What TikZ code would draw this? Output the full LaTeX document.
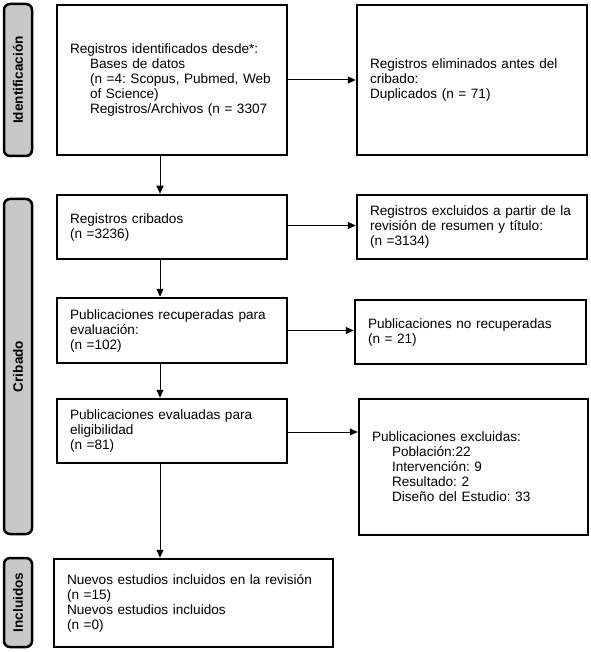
\documentclass[tikz,border=0pt]{standalone}
\usepackage{fontspec}
\setmainfont{Liberation Sans}
\usetikzlibrary{arrows.meta}
\definecolor{sidegray}{HTML}{C8C8C8}
\frenchspacing
\begin{document}
\begin{tikzpicture}[x=1pt,y=-1pt,
  box/.style={draw, line width=2.5pt, rectangle, inner xsep=13pt, inner ysep=0pt,
    align=left, font=\fontsize{13.6}{15}\selectfont\frenchspacing},
  side/.style={draw, line width=2.5pt, rectangle, rounded corners=6pt, fill=sidegray,
    rotate=90, inner sep=0pt, minimum height=28pt,
    font=\fontsize{13.6}{15}\selectfont\bfseries},
  arr/.style={line width=1pt, -{Triangle[length=8pt,width=7pt]}}]
\useasboundingbox (0,0) rectangle (590,652);
\newcommand{\indt}{\hspace*{20pt}}
% side bars
\node[side, minimum width=152pt] (s1) at (18,80) {Identificación};
\node[side, minimum width=335pt] (s2) at (18,366.5) {Cribado};
\node[side, minimum width=89pt] (s3) at (18,602.5) {Incluidos};
% left column
\node[box, text width=204pt, minimum height=150pt] (b1) at (172,80)
  {\mbox{Registros identificados desde*:}\\
   \indt Bases de datos\\
   \indt \mbox{(n =4: Scopus, Pubmed, Web}\\
   \indt of Science)\\
   \indt \mbox{Registros/Archivos (n = 3307}};
\node[box, text width=204pt, minimum height=64pt] (b2) at (172,227)
  {Registros cribados\\(n =3236)};
\node[box, text width=204pt, minimum height=65pt] (b3) at (172,330.5)
  {\mbox{Publicaciones recuperadas para}\\evaluación:\\(n =102)};
\node[box, text width=204pt, minimum height=64pt] (b4) at (172,431)
  {\mbox{Publicaciones evaluadas para}\\eligibilidad\\(n =81)};
\node[box, text width=253pt, minimum height=88pt] (b5) at (193.5,603)
  {\mbox{Nuevos estudios incluidos en la revisión}\\(n =15)\\Nuevos estudios incluidos\\(n =0)};
% right column
\node[box, text width=204pt, minimum height=150pt] (r1) at (472,80)
  {\mbox{Registros eliminados antes del}\\cribado:\\Duplicados (n = 71)};
\node[box, text width=204pt, minimum height=64pt] (r2) at (472,227)
  {\mbox{Registros excluidos a partir de la}\\\mbox{revisión de resumen y título:}\\(n =3134)};
\node[box, text width=205pt, minimum height=64pt] (r3) at (470.5,332)
  {Publicaciones no recuperadas\\(n = 21)};
\node[box, text width=203pt, minimum height=136pt] (r4) at (473.5,467)
  {Publicaciones excluidas:\\
   \indt Población:22\\
   \indt Intervención: 9\\
   \indt Resultado: 2\\
   \indt \mbox{Diseño del Estudio: 33}};
% connectors
\coordinate (vx) at (160,0);
\draw[arr] (b1.south -| vx) -- (b2.north -| vx);
\draw[arr] (b2.south -| vx) -- (b3.north -| vx);
\draw[arr] (b3.south -| vx) -- (b4.north -| vx);
\draw[arr] (b4.south -| vx) -- (b5.north -| vx);
\draw[arr] (b1.east) -- (r1.west);
\draw[arr] ([yshift=1.5pt]b2.east) -- ([yshift=1.5pt]b2.east -| r2.west);
\draw[arr] (b3.east) -- (b3.east -| r3.west);
\draw[arr] ([yshift=-1pt]b4.east) -- ([yshift=-1pt]b4.east -| r4.west);
\end{tikzpicture}
\end{document}
